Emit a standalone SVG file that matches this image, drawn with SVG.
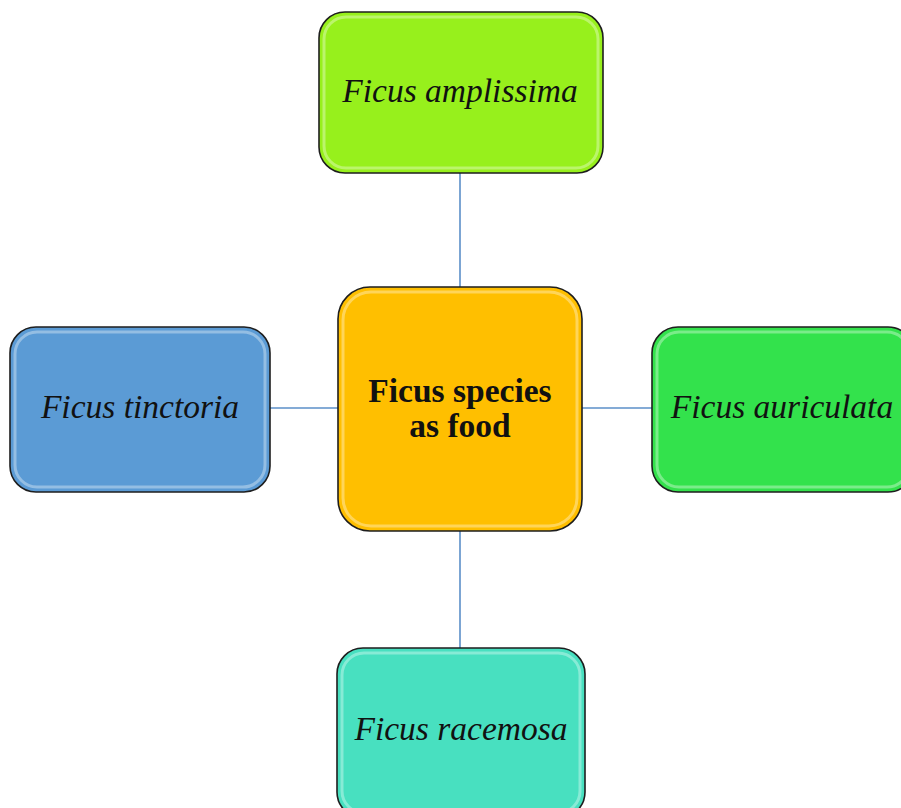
<svg xmlns="http://www.w3.org/2000/svg" width="901" height="808" viewBox="0 0 901 808">
<style>
.box{stroke:#1e1e1e;stroke-width:1.6}
.gloss{fill:none;stroke:#ffffff;stroke-opacity:0.35;stroke-width:3}
.conn{stroke:#5b8fc8;stroke-width:1.6;fill:none}
.lbl{font-family:"Liberation Serif","Times New Roman",serif;font-style:italic;font-size:33.5px;fill:#111;text-anchor:middle}
.ctr{font-family:"Liberation Serif","Times New Roman",serif;font-weight:bold;font-size:33.5px;fill:#111;text-anchor:middle}
</style>
<rect width="901" height="808" fill="#ffffff"/>
<g id="connectors">
<line class="conn" x1="460" y1="173" x2="460" y2="287"/>
<line class="conn" x1="460" y1="531" x2="460" y2="648"/>
<line class="conn" x1="270" y1="408" x2="338" y2="408"/>
<line class="conn" x1="582" y1="408" x2="652" y2="408"/>
</g>
<g id="top">
<rect class="box" x="319" y="12" width="284" height="161" rx="26" fill="#97f01c"/>
<rect class="gloss" x="324" y="17" width="274" height="151" rx="22"/>
<text class="lbl" x="460" y="102">Ficus amplissima</text>
</g>
<g id="center">
<rect class="box" x="338" y="287" width="244" height="244" rx="32" fill="#ffbf00"/>
<rect class="gloss" x="343" y="292" width="234" height="234" rx="28"/>
<text class="ctr" x="460" y="402">Ficus species</text>
<text class="ctr" x="460" y="437">as food</text>
</g>
<g id="left">
<rect class="box" x="10" y="327" width="260" height="165" rx="26" fill="#5b9bd5"/>
<rect class="gloss" x="15" y="332" width="250" height="155" rx="22"/>
<text class="lbl" x="140" y="418">Ficus tinctoria</text>
</g>
<g id="right">
<rect class="box" x="652" y="327" width="262" height="165" rx="26" fill="#33e24c"/>
<rect class="gloss" x="657" y="332" width="252" height="155" rx="22"/>
<text class="lbl" x="782" y="418">Ficus auriculata</text>
</g>
<g id="bottom">
<rect class="box" x="337" y="648" width="248" height="170" rx="26" fill="#48e0c0"/>
<rect class="gloss" x="342" y="653" width="238" height="160" rx="22"/>
<text class="lbl" x="461" y="740">Ficus racemosa</text>
</g>
</svg>
